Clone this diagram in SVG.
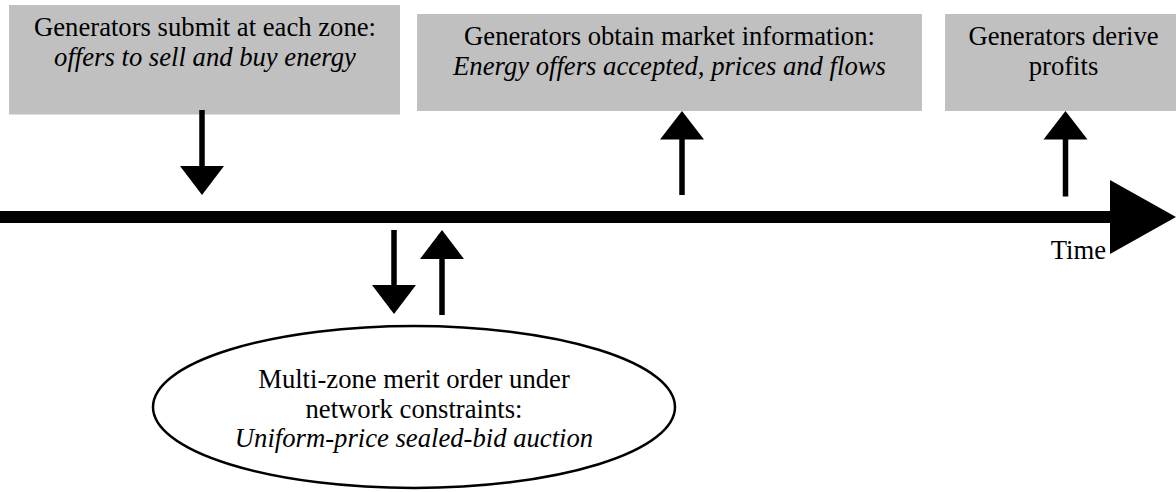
<svg xmlns="http://www.w3.org/2000/svg" width="1176" height="492" viewBox="0 0 1176 492">
<style>
.box{fill:#c0c0c0;}
.t{font-family:"Liberation Serif","Times New Roman",serif;font-size:26.67px;fill:#000;text-anchor:middle;}
.i{font-style:italic;}
.shaft{stroke:#000;stroke-width:5.5;fill:none;}
.head{fill:#000;}
</style>
<rect width="1176" height="492" fill="#fff"/>
<g id="node-submit">
<rect class="box" x="9" y="5" width="391" height="109.5"/>
<text class="t" x="205" y="36">Generators submit at each zone:</text>
<text class="t i" x="205" y="66">offers to sell and buy energy</text>
</g>
<g id="node-info">
<rect class="box" x="417" y="14" width="505" height="97"/>
<text class="t" x="669.5" y="45">Generators obtain market information:</text>
<text class="t i" x="669.5" y="75">Energy offers accepted, prices and flows</text>
</g>
<g id="node-profits">
<rect class="box" x="945" y="14" width="237" height="97"/>
<text class="t" x="1063.5" y="45">Generators derive</text>
<text class="t" x="1063.5" y="75">profits</text>
</g>
<g id="node-auction">
<ellipse cx="414" cy="407" rx="261" ry="81" fill="#fff" stroke="#000" stroke-width="2.5"/>
<text class="t" x="414" y="388">Multi-zone merit order under</text>
<text class="t" x="414" y="417.5">network constraints:</text>
<text class="t i" x="414" y="447">Uniform-price sealed-bid auction</text>
</g>
<g id="timeline">
<rect x="0" y="211" width="1111" height="12" fill="#000"/>
<polygon class="head" points="1110,180 1176,217 1110,254"/>
<text class="t" x="1106" y="259" style="text-anchor:end">Time</text>
</g>
<g id="connectors">
<line class="shaft" x1="202" y1="110" x2="202" y2="167"/>
<polygon class="head" points="180,166 224,166 202,195"/>
<line class="shaft" x1="394" y1="230" x2="394" y2="286"/>
<polygon class="head" points="372,285 416,285 394,314"/>
<line class="shaft" x1="442" y1="258" x2="442" y2="315"/>
<polygon class="head" points="420,259 464,259 442,230"/>
<line class="shaft" x1="682" y1="138" x2="682" y2="195"/>
<polygon class="head" points="660,139.5 704,139.5 682,111"/>
<line class="shaft" x1="1065.5" y1="138" x2="1065.5" y2="196.5"/>
<polygon class="head" points="1043.5,139.5 1087.5,139.5 1065.5,111"/>
</g>
</svg>
